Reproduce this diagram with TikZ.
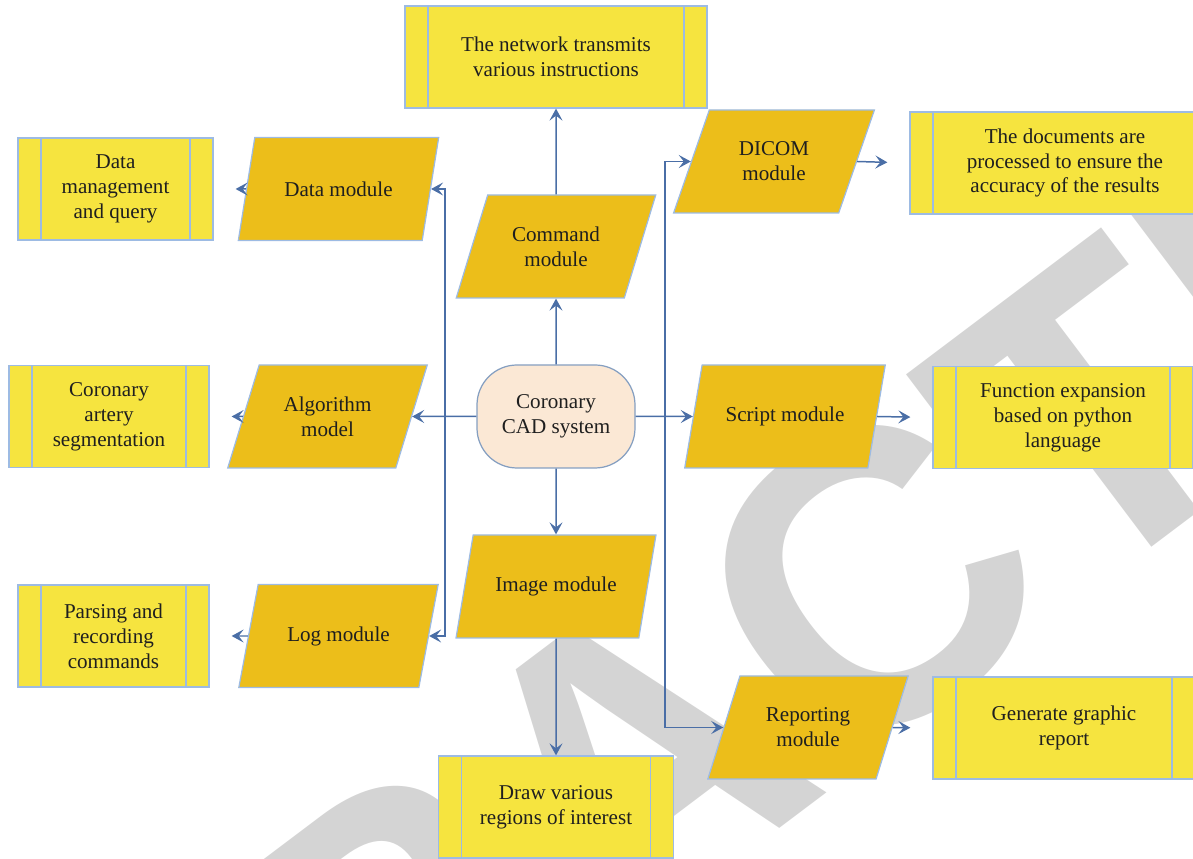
\documentclass[tikz,border=0pt]{standalone}
\usepackage{fontspec}
\setmainfont{Liberation Serif}
\newfontfamily\stampfont{Liberation Sans}
\usepackage{xcolor}
\usetikzlibrary{arrows.meta,positioning,shapes.geometric}
\definecolor{procfill}{HTML}{F6E43F}
\definecolor{procline}{HTML}{9DBBE3}
\definecolor{modfill}{HTML}{ECBE1A}
\definecolor{corefill}{HTML}{FBE8D5}
\definecolor{linkblue}{HTML}{4A6EA6}
\definecolor{stampgray}{HTML}{D4D4D4}

\tikzset{
  proc/.style={draw=procline, line width=0.7pt, fill=procfill, minimum height=20.4mm,
    align=center, text=black!88, font=\fontsize{12}{14.2}\selectfont,
    path picture={
      \draw[procline, line width=0.7pt]
        ([xshift=4.6mm]path picture bounding box.north west) -- ([xshift=4.6mm]path picture bounding box.south west)
        ([xshift=-4.6mm]path picture bounding box.north east) -- ([xshift=-4.6mm]path picture bounding box.south east);
    }},
  module/.style={trapezium, trapezium left angle=66, trapezium right angle=114, trapezium stretches=true,
    draw=procline, line width=0.7pt, fill=modfill, minimum width=40.2mm, minimum height=20.6mm,
    align=center, text=black!88, font=\fontsize{12}{14.2}\selectfont},
  core/.style={draw=procline!85!black, line width=0.7pt, fill=corefill, rounded corners=8mm,
    minimum width=31.6mm, minimum height=20.6mm, align=center, text=black!88,
    font=\fontsize{12}{14.2}\selectfont},
  link/.style={draw=linkblue, line width=0.85pt, -{Stealth[length=2.4mm,width=2.6mm,inset=1mm]}},
  gap/.style={shorten >=4.4mm}
}

\begin{document}
\begin{tikzpicture}[x=0.2mm, y=-0.2mm]
  \clip (0,0) rectangle (1193,859);
  % watermark behind the chart
  \node[rotate=37, text=stampgray, font={\stampfont\bfseries\fontsize{236}{236}\selectfont}] (stamp) at (630,762) {RETRACTED};

  % centre column
  \node[proc, minimum width=60.4mm] (net) at (556,57) {The network transmits\\various instructions};
  \node[module] (cmd) at (556,246.5) {Command\\module};
  \node[core] (cad) at (556,416.5) {Coronary\\CAD system};
  \node[module] (img) at (556,586.5) {Image module};
  \node[proc, minimum width=47mm] (roi) at (556,807) {Draw various\\regions of interest};

  % left side
  \node[module] (datam) at (338.5,189) {Data module};
  \node[proc, minimum width=39mm] (query) at (115.5,189) {Data\\management\\and query};
  \node[module] (algm) at (327.5,416.5) {Algorithm\\model};
  \node[proc, minimum width=40mm] (seg) at (109,416.5) {Coronary\\artery\\segmentation};
  \node[module] (logm) at (338.5,636) {Log module};
  \node[proc, minimum width=38.2mm] (parse) at (113.5,636) {Parsing and\\recording\\commands};

  % right side
  \node[module] (dicom) at (774,161.5) {DICOM\\module};
  \node[proc, minimum width=62mm] (docs) at (1065,163) {The documents are\\processed to ensure the\\accuracy of the results};
  \node[module] (script) at (785,416.5) {Script module};
  \node[proc, minimum width=52mm] (func) at (1063,417.5) {Function expansion\\based on python\\language};
  \node[module] (report) at (808,727.5) {Reporting\\module};
  \node[proc, minimum width=52.4mm] (graph) at (1064,728) {Generate graphic\\report};

  % bus points
  \coordinate (lbus) at (445,416.5);
  \coordinate (rbus) at (665,416.5);

  % vertical links
  \draw[link] (cad.north) -- (cmd.south);
  \draw[link] (cmd.north) -- (net.south);
  \draw[link] (cad.south) -- (img.north);
  \draw[link] (img.south) -- (roi.north);

  % left links
  \draw[link] (cad.west) -- (algm.east);
  \draw[link] (lbus) |- (datam.east);
  \draw[link] (lbus) |- (logm.east);
  \draw[link, gap] (datam.west) -- (query.east);
  \draw[link, gap] (algm.west) -- (seg.east);
  \draw[link, gap] (logm.west) -- (parse.east);

  % right links
  \draw[link] (cad.east) -- (script.west);
  \draw[link] (rbus) |- (dicom.west);
  \draw[link] (rbus) |- (report.west);
  \draw[link, gap] (dicom.east) -- (docs.west);
  \draw[link, gap] (script.east) -- (func.west);
  \draw[link, gap] (report.east) -- (graph.west);
\end{tikzpicture}
\end{document}
